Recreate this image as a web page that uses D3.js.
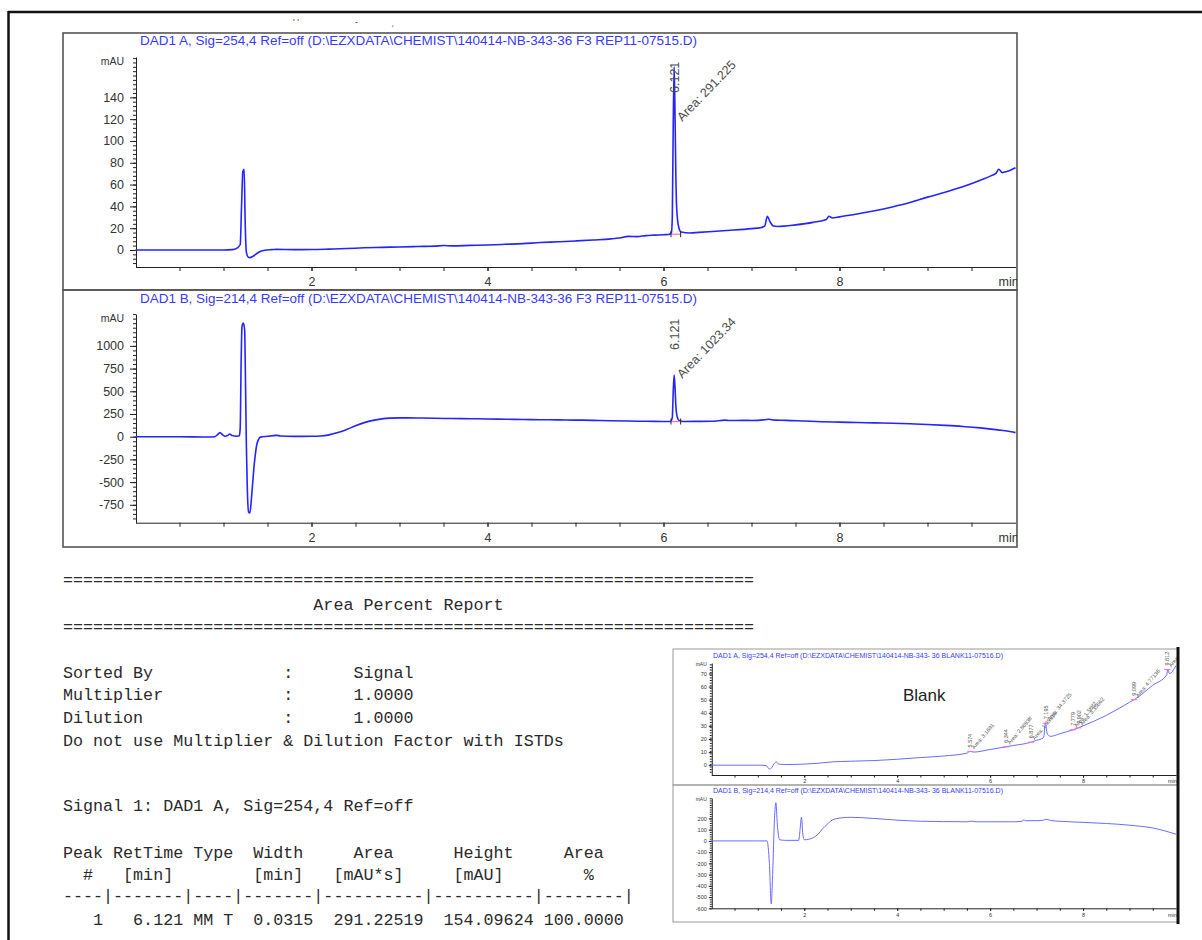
<!DOCTYPE html>
<html>
<head>
<meta charset="utf-8">
<script src="https://cdn.jsdelivr.net/npm/d3@7"></script>
<style>
  body { margin: 0; background: #fff; }
  svg text { font-family: "Liberation Sans", Arial, sans-serif; }
  .mono { font-family: "Liberation Mono", "Courier New", monospace; white-space: pre; }
</style>
</head>
<body>
<svg id="page" width="1202" height="940"></svg>
<script>
// ---- data ----

// DAD1 A, 254 nm  [time (min), mAU]
const signalA = [
  [0, 0], [0.5, 0], [1.0, 0], [1.1, 0.3], [1.15, 1.5], [1.19, 5], [1.205, 40], [1.22, 72],
  [1.235, 74], [1.245, 30], [1.26, -2], [1.28, -6.5], [1.3, -7], [1.34, -5.5], [1.4, -2],
  [1.47, -0.3], [1.55, 0.3], [1.6, 0.6], [1.8, 0.3], [2.0, 0.4], [2.2, 0.8], [2.4, 1.3],
  [2.6, 2], [2.8, 2.4], [3.0, 2.8], [3.2, 3.2], [3.4, 3.5], [3.5, 4.1], [3.6, 3.8], [3.8, 4.2],
  [4.0, 4.6], [4.2, 5.2], [4.4, 5.8], [4.6, 6.8], [4.8, 7.5], [5.0, 8.3], [5.2, 9.2], [5.4, 10.2],
  [5.5, 11.0], [5.6, 12.5], [5.7, 12.3], [5.8, 13.2], [5.9, 13.6], [6.0, 14.0], [6.06, 14.2],
  [6.09, 16], [6.1, 30], [6.11, 110], [6.121, 168], [6.13, 130], [6.14, 70], [6.15, 38],
  [6.17, 22], [6.2, 16.5], [6.3, 15.6], [6.4, 16.2], [6.6, 17.2], [6.8, 18.3], [7.0, 19.6],
  [7.1, 20.4], [7.15, 22], [7.18, 31], [7.21, 26], [7.25, 22], [7.3, 21.6], [7.5, 23],
  [7.7, 25.3], [7.85, 28], [7.88, 31], [7.92, 29.3], [8.0, 30.4], [8.2, 33], [8.4, 36],
  [8.6, 39.5], [8.8, 43.5], [9.0, 48.5], [9.2, 53], [9.4, 58], [9.6, 64], [9.72, 68],
  [9.78, 70.5], [9.81, 74], [9.85, 71], [9.9, 72], [10.0, 75.5]
];

// DAD1 B, 214 nm
const signalB = [
  [0, 0], [0.5, 0], [0.8, -3], [0.9, 0], [0.93, 20], [0.96, 45], [0.99, 20], [1.02, 5],
  [1.05, 15], [1.07, 30], [1.1, 12], [1.15, 5], [1.18, 10], [1.19, 100], [1.2, 800],
  [1.21, 1210], [1.225, 1250], [1.24, 1180], [1.25, 600], [1.26, -100], [1.27, -550],
  [1.285, -830], [1.3, -840], [1.32, -650], [1.35, -300], [1.38, -80], [1.42, -5], [1.5, 5],
  [1.6, 15], [1.65, 8], [1.8, 3], [2.0, 5], [2.1, 8], [2.2, 20], [2.3, 45], [2.4, 80],
  [2.5, 120], [2.6, 155], [2.7, 180], [2.8, 196], [2.9, 204], [3.0, 207], [3.2, 206],
  [3.4, 203], [3.6, 200], [3.8, 198], [4.0, 195], [4.2, 192], [4.4, 190], [4.6, 187],
  [4.8, 185], [5.0, 183], [5.2, 180], [5.4, 176], [5.6, 172], [5.8, 170], [6.0, 168],
  [6.08, 167], [6.1, 210], [6.11, 480], [6.121, 680], [6.13, 560], [6.14, 350], [6.155, 220],
  [6.18, 175], [6.22, 168], [6.4, 169], [6.55, 170], [6.7, 182], [6.75, 178], [6.9, 180],
  [7.0, 179], [7.15, 186], [7.2, 192], [7.26, 183], [7.4, 180], [7.6, 172], [7.8, 165],
  [8.0, 160], [8.2, 156], [8.4, 152], [8.6, 148], [8.8, 142], [9.0, 135], [9.2, 125],
  [9.4, 113], [9.6, 97], [9.8, 75], [9.95, 55], [10.0, 45]
];

// blank injection, DAD1 A
const blankA = [
  [0, 0], [1.0, 0], [1.18, -0.3], [1.25, -3], [1.3, -2], [1.35, 1], [1.4, 2.5], [1.45, 0.8],
  [1.6, 0.5], [2.0, 0.8], [2.3, 1.5], [2.6, 2.5], [3.0, 3], [3.5, 3.5], [4.0, 4.5], [4.5, 5.8],
  [5.0, 7], [5.5, 9.2], [5.57, 10.5], [5.65, 10], [6.0, 12], [6.34, 14], [6.5, 15], [6.88, 17.5],
  [7.0, 19], [7.15, 21], [7.19, 32], [7.23, 24], [7.3, 22], [7.5, 24], [7.78, 27], [7.9, 28.5],
  [8.0, 30], [8.5, 38], [9.0, 48], [9.1, 50], [9.5, 61], [9.8, 69], [9.82, 73], [9.86, 70], [10, 76]
];

// blank injection, DAD1 B
const blankB = [
  [0, 0], [1.0, 0], [1.2, 0], [1.25, -200], [1.29, -560], [1.32, -300], [1.36, 200], [1.39, 340],
  [1.42, 150], [1.47, 10], [1.6, 5], [1.88, 5], [1.91, 100], [1.94, 210], [1.97, 60], [2.0, 10],
  [2.1, 15], [2.2, 30], [2.3, 60], [2.4, 110], [2.5, 150], [2.6, 185], [2.8, 205], [3.0, 210],
  [3.5, 200], [4.0, 185], [4.5, 175], [5.0, 172], [5.5, 170], [5.6, 176], [5.7, 170], [6.0, 170],
  [6.5, 170], [6.7, 176], [6.72, 188], [6.76, 180], [7.0, 180], [7.15, 185], [7.2, 192],
  [7.3, 182], [7.5, 175], [8.0, 165], [8.5, 155], [9.0, 140], [9.5, 115], [10, 60]
];

const xTicksMain = [2, 4, 6, 8];
const yTicksA = [0, 20, 40, 60, 80, 100, 120, 140];
const yTicksB = [-750, -500, -250, 0, 250, 500, 750, 1000];
const yTicksBlankA = [0, 10, 20, 30, 40, 50, 60, 70];
const yTicksBlankB = [-600, -500, -400, -300, -200, -100, 0, 100, 200];

const peakRT = 6.121;
const peakBaseA = 14.5, peakTopA = 168, peakAreaA = "291.225";
const peakBaseB = 167, peakTopB = 680, peakAreaB = "1023.34";

const blankPeakRT = [5.574, 6.344, 6.877, 7.195, 7.779, 7.902, 9.099, 9.812];
const blankPeakArea = ["3.1691", "2.86938", "1.95316", "34.3725", "1.5882", "3.35662", "4.77136", "2.0311"];

const titleA = "DAD1 A, Sig=254,4 Ref=off (D:\\EZXDATA\\CHEMIST\\140414-NB-343-36 F3 REP11-07515.D)";
const titleB = "DAD1 B, Sig=214,4 Ref=off (D:\\EZXDATA\\CHEMIST\\140414-NB-343-36 F3 REP11-07515.D)";
const blankTitleA = "DAD1 A, Sig=254,4 Ref=off (D:\\EZXDATA\\CHEMIST\\140414-NB-343- 36 BLANK11-07516.D)";
const blankTitleB = "DAD1 B, Sig=214,4 Ref=off (D:\\EZXDATA\\CHEMIST\\140414-NB-343- 36 BLANK11-07516.D)";

const reportLines = [
  "=====================================================================",
  "                         Area Percent Report",
  "=====================================================================",
  "Sorted By             :      Signal",
  "Multiplier            :      1.0000",
  "Dilution              :      1.0000",
  "Do not use Multiplier & Dilution Factor with ISTDs",
  "Signal 1: DAD1 A, Sig=254,4 Ref=off",
  "Peak RetTime Type  Width     Area      Height     Area  ",
  "  #   [min]        [min]   [mAU*s]     [mAU]        %   ",
  "----|-------|----|-------|----------|----------|--------|",
  "   1   6.121 MM T  0.0315  291.22519  154.09624 100.0000"
];
const reportBaselines = [585, 610, 632, 678, 700, 723, 746, 811, 858, 880, 901, 925];

// ---- drawing ----

let svg = d3.select("#page");
let clipCount = 0;

function drawChart(o) {
  let g = svg.append("g");

  let x = d3.scaleLinear().domain([0, 10]).range(o.xRange);
  let y = d3.scaleLinear().domain(o.yDomain).range(o.yRange);

  let clipId = "clip" + (clipCount++);
  svg.append("clipPath").attr("id", clipId)
    .append("rect")
    .attr("x", o.frame[0]).attr("y", o.frame[1])
    .attr("width", o.frame[2] - o.frame[0]).attr("height", o.frame[3] - o.frame[1]);

  // frame
  g.append("rect")
    .attr("x", o.frame[0]).attr("y", o.frame[1])
    .attr("width", o.frame[2] - o.frame[0]).attr("height", o.frame[3] - o.frame[1])
    .attr("fill", "none").attr("stroke", o.frameColor).attr("stroke-width", o.frameWidth);

  // title
  g.append("text")
    .attr("x", o.titleX).attr("y", o.titleY)
    .attr("font-size", o.titleSize)
    .attr("fill", "#3a3aff")
    .attr("textLength", o.titleLen).attr("lengthAdjust", "spacingAndGlyphs")
    .text(o.title);

  let yAxisX = o.xRange[0] + 0.5;
  let xAxisY = o.yRange[0];
  let plain = d => String(d);

  // y axis minor + major
  g.append("g").attr("transform", `translate(${yAxisX},0)`)
    .call(d3.axisLeft(y).tickValues(o.yMinor).tickSize(o.minorLen).tickSizeOuter(0).tickFormat(""))
    .call(a => a.select(".domain").attr("stroke", "#222"))
    .call(a => a.selectAll("line").attr("stroke", "#222"));
  g.append("g").attr("transform", `translate(${yAxisX},0)`)
    .call(d3.axisLeft(y).tickValues(o.yTicks).tickSize(o.majorLen).tickPadding(o.yPad).tickSizeOuter(0).tickFormat(plain))
    .call(a => a.select(".domain").remove())
    .call(a => a.selectAll("line").attr("stroke", "#222"))
    .call(a => a.selectAll("text").attr("font-size", o.tickSize).attr("fill", "#333")
      .attr("font-family", "Liberation Sans, Arial, sans-serif"));

  g.append("text")
    .attr("x", yAxisX - o.majorLen - o.yPad).attr("y", o.yRange[1] + o.mauDy)
    .attr("text-anchor", "end").attr("font-size", o.mauSize).attr("fill", "#333")
    .text("mAU");

  // x axis
  g.append("g").attr("transform", `translate(0,${xAxisY})`)
    .call(d3.axisBottom(x).tickValues(d3.range(0.5, 10, 0.5)).tickSize(o.xTickLen).tickSizeOuter(0).tickFormat(""))
    .call(a => a.select(".domain").attr("stroke", "#222"))
    .call(a => a.selectAll("line").attr("stroke", "#222"));
  g.append("g").attr("transform", `translate(0,${xAxisY})`)
    .call(d3.axisBottom(x).tickValues(xTicksMain).tickSize(o.xTickLen).tickPadding(o.xPad).tickSizeOuter(0).tickFormat(plain))
    .call(a => a.select(".domain").remove())
    .call(a => a.selectAll("line").attr("stroke", "#222"))
    .call(a => a.selectAll("text").attr("font-size", o.tickSize).attr("fill", "#333")
      .attr("font-family", "Liberation Sans, Arial, sans-serif"));

  // clipped layer for trace and annotations
  let inner = g.append("g").attr("clip-path", `url(#${clipId})`);

  inner.append("text")
    .attr("x", x(10) - o.minOffset).attr("y", xAxisY + o.xTickLen + o.xPad)
    .attr("dy", "0.71em").attr("font-size", o.tickSize).attr("fill", "#333")
    .text("min");

  // signal trace
  let line = d3.line()
    .x(d => x(d[0]))
    .y(d => y(d[1]))
    .curve(d3.curveMonotoneX);

  inner.append("path")
    .datum(o.data)
    .attr("d", line)
    .attr("fill", "none")
    .attr("stroke", o.lineColor)
    .attr("stroke-width", o.lineWidth)
    .attr("stroke-linejoin", "round");

  return { g: inner, x: x, y: y };
}

function peakMarks(c, t0, t1, base, tickH) {
  c.g.append("line")
    .attr("x1", c.x(t0)).attr("x2", c.x(t1))
    .attr("y1", c.y(base)).attr("y2", c.y(base))
    .attr("stroke", "#ff66cc").attr("stroke-width", 1.2);
  [t0, t1].forEach(t => {
    c.g.append("line")
      .attr("x1", c.x(t)).attr("x2", c.x(t))
      .attr("y1", c.y(base) - tickH / 2).attr("y2", c.y(base) + tickH / 2)
      .attr("stroke", "#222").attr("stroke-width", 1);
  });
}

function peakLabels(c, rt, top, area, o) {
  let px = c.x(rt);
  let rtBottom = Math.max(c.y(top) - o.gap, o.yMin + o.rtLen);
  c.g.append("text")
    .attr("transform", `translate(${px + o.rtDx},${rtBottom}) rotate(-90)`)
    .attr("font-size", o.size).attr("fill", "#4a4a4a")
    .text(rt.toFixed(3));
  let aY = Math.max(c.y(top) + o.areaDy, o.yMin + o.areaRise);
  c.g.append("text")
    .attr("transform", `translate(${px + o.areaDx},${aY}) rotate(${o.angle})`)
    .attr("font-size", o.size).attr("fill", "#4a4a4a")
    .text("Area: " + area);
}

// page border
svg.append("line").attr("x1", 8).attr("x2", 1202).attr("y1", 12).attr("y2", 12)
  .attr("stroke", "#111").attr("stroke-width", 2.5);
svg.append("line").attr("x1", 8.5).attr("x2", 8.5).attr("y1", 11).attr("y2", 940)
  .attr("stroke", "#111").attr("stroke-width", 2.5);

// stray fragments of the cropped line above the chart
[[293, "' '"], [355, "-"], [391, "\u02CF"]].forEach(d => {
  svg.append("text").attr("x", d[0]).attr("y", 25).attr("font-size", 9).attr("fill", "#333").text(d[1]);
});

const mainCommon = {
  xRange: [135.5, 1015.5],
  frameColor: "#555", frameWidth: 1.6,
  titleX: 140, titleSize: 12, titleLen: 557,
  majorLen: 6, minorLen: 3, yPad: 6, xTickLen: 4, xPad: 6,
  tickSize: 12.5, mauSize: 10.5, mauDy: 8, minOffset: 17,
  lineColor: "#2424ff", lineWidth: 1.6
};

let chartA = drawChart(Object.assign({}, mainCommon, {
  frame: [63, 33, 1017, 290],
  title: titleA, titleY: 45,
  yDomain: [-15.6, 177], yRange: [267, 57],
  yMinor: d3.range(-12, 177, 4), yTicks: yTicksA,
  data: signalA
}));

let chartB = drawChart(Object.assign({}, mainCommon, {
  frame: [63, 290, 1017, 547],
  title: titleB, titleY: 303,
  yDomain: [-947, 1351], yRange: [522.7, 314],
  yMinor: d3.range(-900, 1351, 50), yTicks: yTicksB,
  data: signalB
}));

peakMarks(chartA, 6.085, 6.195, peakBaseA, 6);
peakMarks(chartB, 6.085, 6.195, peakBaseB, 6);

const mainLabel = { size: 12.5, gap: 34, rtLen: 36, rtDx: 5, areaDx: 8, areaDy: 3, areaRise: 65, angle: -46 };
peakLabels(chartA, peakRT, peakTopA, peakAreaA, Object.assign({ yMin: 57 }, mainLabel));
peakLabels(chartB, peakRT, peakTopB, peakAreaB, Object.assign({ yMin: 314 }, mainLabel));

// report text
svg.append("g").selectAll("text")
  .data(reportLines)
  .enter()
  .append("text")
  .classed("mono", true)
  .attr("x", 63)
  .attr("y", (d, i) => reportBaselines[i])
  .attr("font-size", 16.7)
  .attr("fill", "#2a2a2a")
  .text(d => d);

// ---- inset: blank run ----
const insetCommon = {
  xRange: [711.3, 1176],
  frameColor: "#9a9a9a", frameWidth: 1,
  titleX: 713, titleSize: 6.5, titleLen: 290,
  majorLen: 3, minorLen: 2, yPad: 2, xTickLen: 2.5, xPad: 2,
  tickSize: 5.5, mauSize: 5, mauDy: 3, minOffset: 8,
  lineColor: "#6b6bff", lineWidth: 1
};

let blankChartA = drawChart(Object.assign({}, insetCommon, {
  frame: [673, 649, 1178, 785],
  title: blankTitleA, titleY: 657.5,
  yDomain: [-7.5, 78], yRange: [775, 663],
  yMinor: d3.range(-5, 78, 2), yTicks: yTicksBlankA,
  data: blankA
}));

let blankChartB = drawChart(Object.assign({}, insetCommon, {
  frame: [673, 785, 1178, 922],
  title: blankTitleB, titleY: 792.5,
  yDomain: [-600, 382], yRange: [908.3, 798],
  yMinor: d3.range(-600, 382, 20), yTicks: yTicksBlankB,
  data: blankB
}));

// blank peak annotations
blankPeakRT.forEach((rt, i) => {
  let base = blankA.reduce((a, d) => Math.abs(d[0] - rt) < Math.abs(a[0] - rt) ? d : a)[1];
  let px = blankChartA.x(rt), py = blankChartA.y(base);
  blankChartA.g.append("line")
    .attr("x1", px - 3).attr("x2", px + 3).attr("y1", py).attr("y2", py)
    .attr("stroke", "#ff66cc").attr("stroke-width", 1);
  blankChartA.g.append("text")
    .attr("transform", `translate(${px + 2},${py - 4}) rotate(-90)`)
    .attr("font-size", 5.5).attr("fill", "#555")
    .text(rt.toFixed(3));
  blankChartA.g.append("text")
    .attr("transform", `translate(${px + 4},${py - 2}) rotate(-50)`)
    .attr("font-size", 5.5).attr("fill", "#555")
    .text("Area: " + blankPeakArea[i]);
});

svg.append("text")
  .attr("x", 903).attr("y", 701)
  .attr("font-size", 17).attr("fill", "#222")
  .attr("font-family", "Open Sans, Liberation Sans, sans-serif")
  .text("Blank");

svg.append("line").attr("x1", 1178).attr("x2", 1178).attr("y1", 647).attr("y2", 924)
  .attr("stroke", "#111").attr("stroke-width", 3);
</script>
</body>
</html>
